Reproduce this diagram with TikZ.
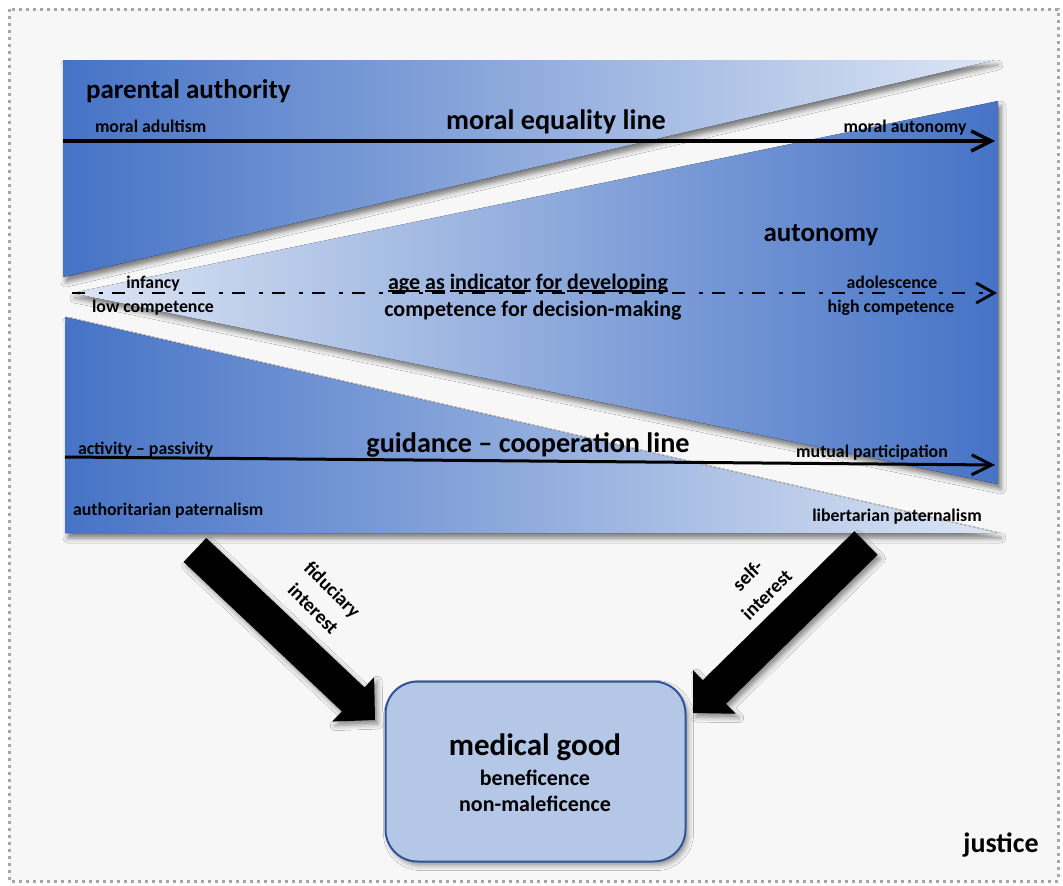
\documentclass[tikz,border=0pt]{standalone}
\usepackage{fontspec}
\setmainfont{Carlito}
\usetikzlibrary{arrows.meta,calc,shadows.blur}

\definecolor{bggray}{HTML}{F7F7F7}
\definecolor{dotgray}{HTML}{A6A6A6}
\definecolor{deepblue}{HTML}{4673C6}
\definecolor{paleblue}{HTML}{DCE5F4}
\definecolor{boxfill}{HTML}{B4C7E7}
\definecolor{boxline}{HTML}{2F5597}

\newcommand\wordul[1]{\begingroup\setbox0=\hbox{#1}\rlap{\rule[-3pt]{\wd0}{1.6pt}}\box0\endgroup}

\begin{document}
\begin{tikzpicture}[x=1pt,y=-1pt,
  every node/.style={inner sep=0pt, outer sep=0pt, text=black},
  small/.style={font=\fontsize{17.8}{24}\selectfont\bfseries},
  medium/.style={font=\fontsize{22}{26}\selectfont\bfseries},
  big/.style={font=\fontsize{27}{32}\selectfont\bfseries},
  bigger/.style={font=\fontsize{28.2}{33}\selectfont\bfseries},
  tilted/.style={font=\fontsize{19.5}{27}\selectfont\bfseries, align=center},
  wedge/.style={blur shadow={shadow xshift=3pt, shadow yshift=-5pt, shadow blur radius=5pt, shadow opacity=50}},
  blockarrow/.style={fill=black, blur shadow={shadow xshift=3pt, shadow yshift=-4pt, shadow blur radius=5pt, shadow opacity=45}},
  mainline/.style={line width=3.4pt, -{Straight Barb[length=20pt, width=20pt]}},
  ageline/.style={line width=2.8pt, dash pattern=on 13pt off 14pt on 3.5pt off 9.5pt, -{Straight Barb[length=18pt, width=20pt]}},
]
\useasboundingbox (0,0) rectangle (1063,886);
\fill[white] (0,0) rectangle (1063,886);
\draw[fill=bggray, draw=dotgray, line width=3pt, dash pattern=on 3pt off 4pt] (9,9) rectangle (1058,881);

% wedges
\fill[wedge, left color=deepblue, right color=paleblue] (63,60) -- (995,60) -- (63,277) -- cycle;
\fill[wedge, left color=paleblue, right color=deepblue] (72,293) -- (998,101) -- (998,484) -- cycle;
\fill[wedge, left color=deepblue, right color=paleblue] (65,317) -- (998,533) -- (65,533) -- cycle;

% lines
\coordinate (meL) at (63,141);
\coordinate (meR) at (995,141);
\coordinate (agL) at (72,293);
\coordinate (agR) at (997,293);
\coordinate (guL) at (65,457);
\coordinate (guR) at (995,465);
\draw[mainline] (meL) -- (meR);
\draw[ageline] (agL) -- (agR);
\draw[mainline, line width=3pt] (guL) -- (guR);

% labels
\node[big, anchor=base west] (pa) at (86,98) {parental authority};
\node[small, anchor=base west] (madult) at (95,132) {moral adultism};
\node[bigger, anchor=base] (meq) at (556,129) {moral equality line};
\node[small, anchor=base] (maut) at (905,132) {moral autonomy};
\node[big, anchor=base] (aut) at (821,241) {autonomy};
\node[small, anchor=base] (inf) at (153,288) {infancy};
\node[small, anchor=base] (lowc) at (153,312) {low competence};
\node[medium, anchor=base] (age1) at (528,289) {\wordul{age} \wordul{as} \wordul{indicator} \wordul{for} \wordul{developing}};
\node[medium, anchor=base] (age2) at (533,316) {competence for decision-making};
\node[small, anchor=base] (adol) at (892,288) {adolescence};
\node[small, anchor=base] (highc) at (891,312) {high competence};
\node[small, anchor=base west] (actp) at (78,454) {activity -- passivity};
\node[bigger, anchor=base] (guid) at (528,452) {guidance -- cooperation line};
\node[small, anchor=base] (mutp) at (872,457) {mutual participation};
\node[small, anchor=base west] (authp) at (73,515) {authoritarian paternalism};
\node[small, anchor=base] (libp) at (897,521) {libertarian paternalism};

% medical good box
\node[draw=boxline, fill=boxfill, line width=2pt, rounded corners=32pt,
      minimum width=300pt, minimum height=180pt,
      blur shadow={shadow xshift=3pt, shadow yshift=-4pt, shadow blur radius=5pt, shadow opacity=40}]
      (mg) at (535.5,771.5) {};
\node[font=\fontsize{31}{36}\selectfont\bfseries, anchor=base] (mgt) at (535,755) {medical good};
\node[medium, anchor=base] (ben) at (535,785) {beneficence};
\node[medium, anchor=base] (nonm) at (535,811.5) {non-maleficence};
\node[font=\fontsize{28}{32}\selectfont\bfseries, anchor=base] (just) at (1001,852) {justice};

% block arrows
\coordinate (S1) at (195,550);
\coordinate (E1) at (375,720);
\coordinate (H1) at ($(E1)!30pt!(S1)$);
\fill[blockarrow] ($(S1)!16.5pt!90:(E1)$) -- ($(H1)!16.5pt!90:(E1)$) -- ($(H1)!30.5pt!90:(E1)$) -- (E1)
  -- ($(H1)!30.5pt!-90:(E1)$) -- ($(H1)!16.5pt!-90:(E1)$) -- ($(S1)!16.5pt!-90:(E1)$) -- cycle;
\coordinate (S2) at (866,543);
\coordinate (E2) at (693,713);
\coordinate (H2) at ($(E2)!30pt!(S2)$);
\fill[blockarrow] ($(S2)!16.5pt!90:(E2)$) -- ($(H2)!16.5pt!90:(E2)$) -- ($(H2)!30.5pt!90:(E2)$) -- (E2)
  -- ($(H2)!30.5pt!-90:(E2)$) -- ($(H2)!16.5pt!-90:(E2)$) -- ($(S2)!16.5pt!-90:(E2)$) -- cycle;

\node[tilted, rotate=-45] (fid) at (323,599) {fiduciary\\interest};
\node[tilted, rotate=45] (self) at (757,585) {self-\\interest};
\end{tikzpicture}
\end{document}
